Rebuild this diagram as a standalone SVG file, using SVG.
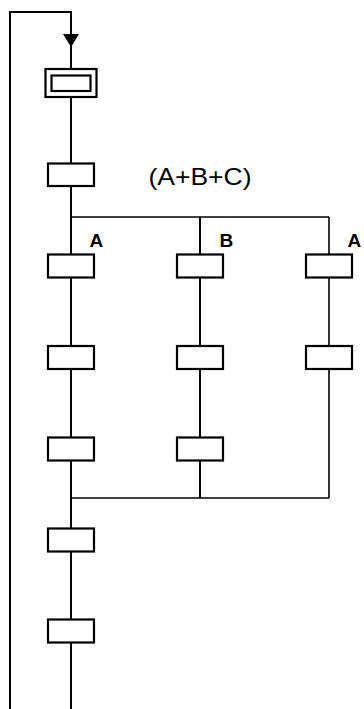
<svg xmlns="http://www.w3.org/2000/svg" width="364" height="709" viewBox="0 0 364 709">
<style>
.ln{fill:none;stroke:#000;stroke-width:2}
.thin{fill:none;stroke:#000;stroke-width:1.6}
.st{fill:#fff;stroke:#000;stroke-width:2.2}
.lbl{font-family:"Liberation Sans",Arial,sans-serif;font-weight:bold;font-size:19px;fill:#000}
.cond{font-family:"Liberation Sans",Arial,sans-serif;font-size:24px;fill:#000}
</style>
<rect width="364" height="709" fill="#fff"/>
<g id="connectors">
<polyline class="ln" points="10,709 10,12 71,12 71,709"/>
<polygon points="63,34 79,34 71,47" fill="#000"/>
<line class="thin" x1="71" y1="217" x2="329" y2="217"/>
<line class="ln" x1="200" y1="217" x2="200" y2="498"/>
<line class="thin" x1="329" y1="217" x2="329" y2="498"/>
<line class="thin" x1="71" y1="498" x2="329" y2="498"/>
</g>
<g id="init">
<rect class="st" x="45.5" y="69" width="51" height="28"/>
<rect class="st" x="51.5" y="75.5" width="39" height="15.5"/>
</g>
<g id="step1"><rect class="st" x="48" y="163.5" width="46" height="22.5"/></g>
<g id="cond"><text class="cond" x="148.5" y="184.5" textLength="103" lengthAdjust="spacingAndGlyphs">(A+B+C)</text></g>
<g id="labelA1"><text class="lbl" x="89.5" y="246.5">A</text></g>
<g id="labelB"><text class="lbl" x="219.5" y="246.5">B</text></g>
<g id="labelA2"><text class="lbl" x="347.5" y="246.5">A</text></g>
<g id="stepA1"><rect class="st" x="48" y="254.5" width="46" height="23"/></g>
<g id="stepB1"><rect class="st" x="177" y="254.5" width="46" height="23"/></g>
<g id="stepC1"><rect class="st" x="306" y="254.5" width="46" height="23"/></g>
<g id="stepA2"><rect class="st" x="48" y="346" width="46" height="23"/></g>
<g id="stepB2"><rect class="st" x="177" y="346" width="46" height="23"/></g>
<g id="stepC2"><rect class="st" x="306" y="346" width="46" height="23"/></g>
<g id="stepA3"><rect class="st" x="48" y="437.5" width="46" height="23"/></g>
<g id="stepB3"><rect class="st" x="177" y="437.5" width="46" height="23"/></g>
<g id="step5"><rect class="st" x="48" y="528.5" width="46" height="23"/></g>
<g id="step6"><rect class="st" x="48" y="619.5" width="46" height="23"/></g>
</svg>
